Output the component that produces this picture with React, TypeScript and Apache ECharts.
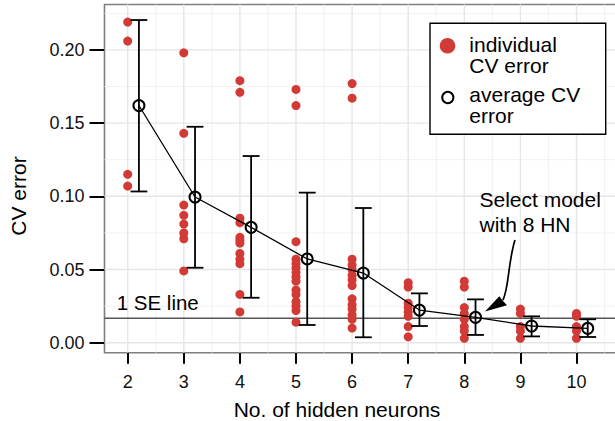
import React, { useEffect, useRef } from "react";
import * as echarts from "echarts";

// ---- data ----
const hiddenNeurons = [2, 3, 4, 5, 6, 7, 8, 9, 10];
const cvHN2 = [0.219, 0.206, 0.115, 0.107];
const cvHN3 = [0.198, 0.143, 0.094, 0.087, 0.081, 0.075, 0.071, 0.049];
const cvHN4 = [0.179, 0.171, 0.085, 0.082, 0.072, 0.07, 0.068, 0.061, 0.057, 0.054, 0.033, 0.021];
const cvHN5 = [0.173, 0.162, 0.069, 0.057, 0.054, 0.051, 0.048, 0.045, 0.042, 0.036, 0.033, 0.028, 0.025, 0.022, 0.014];
const cvHN6 = [0.177, 0.167, 0.057, 0.053, 0.05, 0.046, 0.043, 0.039, 0.03, 0.026, 0.023, 0.019, 0.016, 0.01];
const cvHN7 = [0.041, 0.038, 0.027, 0.024, 0.021, 0.018, 0.011, 0.004];
const cvHN8 = [0.042, 0.038, 0.024, 0.02, 0.016, 0.011, 0.008, 0.003];
const cvHN9 = [0.023, 0.02, 0.011, 0.008, 0.003];
const cvHN10 = [0.02, 0.018, 0.011, 0.008, 0.003];
const individualErrors = [cvHN2, cvHN3, cvHN4, cvHN5, cvHN6, cvHN7, cvHN8, cvHN9, cvHN10];
const averageError = [0.162, 0.0995, 0.0788, 0.0572, 0.0476, 0.0223, 0.0173, 0.0114, 0.0098];
const seLower = [0.1033, 0.0512, 0.0307, 0.0121, 0.0037, 0.0114, 0.0053, 0.0043, 0.0039];
const seUpper = [0.2204, 0.1475, 0.1275, 0.1025, 0.092, 0.0337, 0.0296, 0.018, 0.016];
const oneSELine = 0.0167;
const xTicks = [2, 3, 4, 5, 6, 7, 8, 9, 10];
const xMinorTicks = [2.5, 3.5, 4.5, 5.5, 6.5, 7.5, 8.5, 9.5, 10.5];
const yTicks = [0, 0.05, 0.1, 0.15, 0.2];
const yMinorTicks = [0.025, 0.075, 0.125, 0.175, 0.225];

// ---- style / layout constants ----
const FONT = '"Liberation Sans", Arial, Helvetica, sans-serif';
const RED = "#d13a35";
const DODGE = 0.2;
const X_MIN = 1.58645;
const X_MAX = 10.7754;
const Y_MIN = -0.00683;
const Y_MAX = 0.23101;

export default function App() {
  const ref = useRef<HTMLDivElement>(null);
  useEffect(() => {
    if (!ref.current) return;
    const chart = echarts.init(ref.current, null, { renderer: "svg" });

    const scatterData: number[][] = [];
    individualErrors.forEach((vals, i) => {
      vals.forEach((v) => scatterData.push([hiddenNeurons[i], v]));
    });
    const avgData = hiddenNeurons.map((h, i) => [h + DODGE, averageError[i]]);
    const errData = hiddenNeurons.map((h, i) => [h + DODGE, seLower[i], seUpper[i]]);
    // [orientation (0 vertical, 1 horizontal), value, kind (0 minor, 1 major, 2 SE reference)]
    const gridData: number[][] = [
      ...xMinorTicks.map((v) => [0, v, 0]),
      ...yMinorTicks.map((v) => [1, v, 0]),
      ...xTicks.map((v) => [0, v, 1]),
      ...yTicks.map((v) => [1, v, 1]),
    ];
    const seLineData: number[][] = [[1, oneSELine, 2]];

    const renderRule = (params: any, api: any) => {
      const cs = params.coordSys;
      const orient = api.value(0);
      const v = api.value(1);
      const kind = api.value(2);
      let shape;
      if (orient === 0) {
        const px = api.coord([v, Y_MIN])[0];
        shape = { x1: px, y1: cs.y, x2: px, y2: cs.y + cs.height };
      } else {
        const py = api.coord([X_MIN, v])[1];
        shape = { x1: cs.x, y1: py, x2: cs.x + cs.width, y2: py };
      }
      const style =
        kind === 2
          ? { stroke: "#555", lineWidth: 1.3 }
          : kind === 1
          ? { stroke: "#e6e6e6", lineWidth: 1.4 }
          : { stroke: "#f1f1f1", lineWidth: 0.9 };
      return { type: "line", shape, style };
    };

    const textEl = (text: string, x: number, y: number, size: number, extra: any = {}) => ({
      type: "text",
      x,
      y,
      z: 100,
      ...extra,
      style: { text, fontSize: size, fontFamily: FONT, fill: "#000", align: "left", verticalAlign: "middle", ...(extra.style || {}) },
    });

    chart.setOption({
      animation: false,
      backgroundColor: "#fff",
      textStyle: { fontFamily: FONT },
      grid: {
        left: 104.5,
        top: 4.5,
        right: -5,
        bottom: 68.3,
        show: true,
        backgroundColor: "#fff",
        borderColor: "#7f7f7f",
        borderWidth: 1.6,
        containLabel: false,
        outerBoundsMode: "none",
      },
      xAxis: {
        type: "value",
        min: X_MIN,
        max: X_MAX,
        axisLine: { show: false, onZero: false },
        axisTick: { show: true, customValues: xTicks, length: 11, lineStyle: { color: "#000", width: 2 } },
        axisLabel: { customValues: xTicks, margin: 20.5, fontSize: 18, color: "#111", fontFamily: FONT },
        splitLine: { show: false },
      },
      yAxis: {
        type: "value",
        min: Y_MIN,
        max: Y_MAX,
        axisLine: { show: false, onZero: false },
        axisTick: { show: true, customValues: yTicks, length: 15, lineStyle: { color: "#000", width: 2 } },
        axisLabel: {
          customValues: yTicks,
          margin: 20,
          fontSize: 18,
          color: "#111",
          fontFamily: FONT,
          formatter: (v: number) => v.toFixed(2),
        },
        splitLine: { show: false },
      },
      series: [
        {
          type: "custom",
          name: "grid",
          silent: true,
          z: 1,
          data: gridData,
          renderItem: renderRule,
        },
        {
          type: "custom",
          name: "1 SE line",
          silent: true,
          z: 2,
          data: seLineData,
          renderItem: renderRule,
        },
        {
          type: "scatter",
          name: "individual CV error",
          z: 3,
          symbol: "circle",
          symbolSize: 9,
          itemStyle: { color: RED, opacity: 1 },
          data: scatterData,
        },
        {
          type: "custom",
          name: "SE",
          z: 4,
          silent: true,
          data: errData,
          renderItem: (params: any, api: any) => {
            const x = api.value(0);
            const lo = api.coord([x, api.value(1)]);
            const hi = api.coord([x, api.value(2)]);
            const hw = api.size([0.3, 0])[0] / 2;
            const st = { stroke: "#000", lineWidth: 1.8 };
            return {
              type: "group",
              children: [
                { type: "line", shape: { x1: lo[0], y1: lo[1], x2: hi[0], y2: hi[1] }, style: st },
                { type: "line", shape: { x1: hi[0] - hw, y1: hi[1], x2: hi[0] + hw, y2: hi[1] }, style: st },
                { type: "line", shape: { x1: lo[0] - hw, y1: lo[1], x2: lo[0] + hw, y2: lo[1] }, style: st },
              ],
            };
          },
        },
        {
          type: "line",
          name: "average CV error",
          z: 5,
          data: avgData,
          showSymbol: true,
          showAllSymbol: true,
          symbol: "circle",
          symbolSize: 11,
          lineStyle: { color: "#000", width: 1.3 },
          itemStyle: { color: "rgba(0,0,0,0)", borderColor: "#000", borderWidth: 2 },
        },
      ],
      graphic: [
        // axis titles
        textEl("CV error", 18.2, 196, 21, { rotation: Math.PI / 2, style: { align: "center" } }),
        textEl("No. of hidden neurons", 337, 409.2, 21, { style: { align: "center" } }),
        // 1 SE line label
        textEl("1 SE line", 116.7, 302, 20.5),
        // annotation
        textEl("Select model", 479.5, 199.4, 21),
        textEl("with 8 HN", 479.5, 224.2, 21),
        {
          type: "bezierCurve",
          z: 100,
          shape: { x1: 515, y1: 240, cpx1: 508, cpy1: 262, cpx2: 509, cpy2: 288, x2: 503, y2: 300 },
          style: { stroke: "#000", lineWidth: 1.7, fill: "none" },
        },
        {
          type: "polygon",
          z: 100,
          shape: { points: [[485, 311.5], [499.3, 296.2], [503, 301], [507, 305.2]] },
          style: { fill: "#000" },
        },
        // legend
        {
          type: "rect",
          z: 100,
          shape: { x: 430, y: 23.3, width: 175.7, height: 111 },
          style: { fill: "#fff", stroke: "#000", lineWidth: 1.4 },
        },
        {
          type: "circle",
          z: 101,
          shape: { cx: 447.5, cy: 45.8, r: 7.8 },
          style: { fill: RED },
        },
        {
          type: "circle",
          z: 101,
          shape: { cx: 447.8, cy: 97.5, r: 5.6 },
          style: { fill: "none", stroke: "#000", lineWidth: 2 },
        },
        textEl("individual", 469.3, 44.4, 21, { z: 101 }),
        textEl("CV error", 469.3, 65.4, 21, { z: 101 }),
        textEl("average CV", 469.3, 94.4, 21, { z: 101 }),
        textEl("error", 469.3, 115.4, 21, { z: 101 }),
      ],
    });
    return () => chart.dispose();
  }, []);
  return (
    <div
      ref={ref}
      style={{ position: "fixed", left: 0, top: 0, width: 615, height: 421 }}
    />
  );
}
